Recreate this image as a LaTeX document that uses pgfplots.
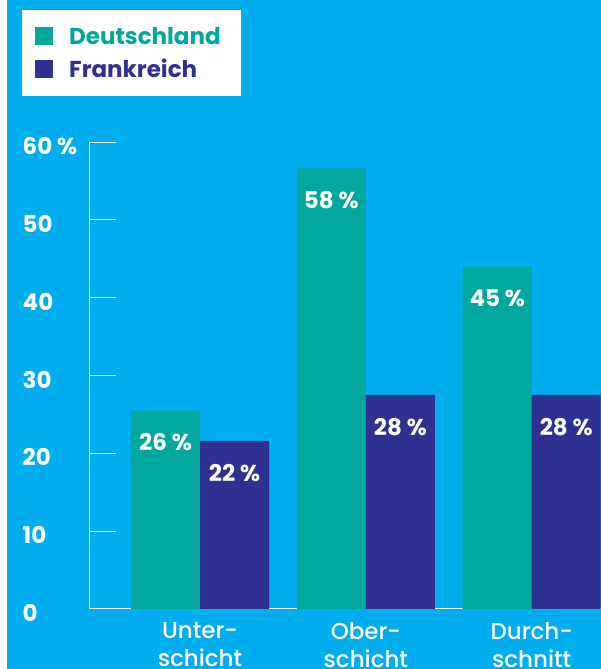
\documentclass[border=0pt]{standalone}
\usepackage{pgfplots}
\pgfplotsset{compat=1.18}
\usepackage{fontspec}
\setmainfont{Poppins}
\newfontfamily\medfont{Poppins}[UprightFont=* Medium]
\definecolor{bgblue}{HTML}{00AEEF}
\definecolor{dteal}{HTML}{00A79D}
\definecolor{fpurple}{HTML}{2E3192}
\newcommand{\bigbold}{\fontsize{23}{26}\selectfont\bfseries}
\begin{document}
\begin{tikzpicture}
\useasboundingbox (0,0) rectangle (601pt,669pt);
\clip (0,0) rectangle (601pt,669pt);
\fill[white] (0,0) rectangle (601pt,669pt);
\fill[bgblue] (7pt,0) rectangle (601pt,669pt);
\begin{axis}[
  at={(89.3pt,60pt)}, anchor=south west,
  scale only axis, width=558.5pt, height=467pt,
  xmin=-0.6675, xmax=2.7, ymin=0, ymax=60,
  ybar=0pt, bar width=69pt,
  axis x line=bottom, axis y line=left,
  axis line style={-, white, line width=1pt},
  xtick={0,1,2},
  xticklabels={{Unter-\\schicht},{Ober-\\schicht},{Durch-\\schnitt}},
  x tick label style={align=center, text=white, font=\medfont\fontsize{23}{28}\selectfont, anchor=north, inner sep=0pt, yshift=-13pt},
  major x tick style={draw=none},
  ytick={0,10,...,60},
  yticklabels={0,10,20,30,40,50,60 \%},
  y tick label style={anchor=west, inner sep=0pt, xshift=-66.8pt, yshift=-4pt, text=white, font=\bigbold},
  tick align=inside, major tick length=27pt,
  major y tick style={white, line width=1pt},
  legend style={at={(axis description cs:-0.1205,1.2827)}, anchor=north west,
    draw=none, fill=white, inner xsep=13pt, inner ysep=17pt,
    row sep=13pt, column sep=16pt, font=\bigbold, nodes={inner sep=0pt}},
  legend cell align=left,
]
\addplot[fill=dteal, draw=none, point meta=explicit symbolic,
  nodes near coords,
  nodes near coords style={anchor=north, yshift=-23pt, inner sep=0pt, text=white, font=\bigbold},
  legend image code/.code={\fill[dteal] (0pt,-9pt) rectangle (18pt,9pt);}]
  coordinates {(0,25.5) [26 \%] (1,56.6) [58 \%] (2,44.0) [45 \%]};
\addlegendentry{\textcolor{dteal}{\makebox[159pt][l]{Deutschland}}}
\addplot[fill=fpurple, draw=none, point meta=explicit symbolic,
  nodes near coords,
  nodes near coords style={anchor=north, yshift=-23pt, inner sep=0pt, text=white, font=\bigbold},
  legend image code/.code={\fill[fpurple] (0pt,-9pt) rectangle (18pt,9pt);}]
  coordinates {(0,21.6) [22 \%] (1,27.5) [28 \%] (2,27.5) [28 \%]};
\addlegendentry{\textcolor{fpurple}{\makebox[159pt][l]{Frankreich}}}
\end{axis}
\end{tikzpicture}
\end{document}
